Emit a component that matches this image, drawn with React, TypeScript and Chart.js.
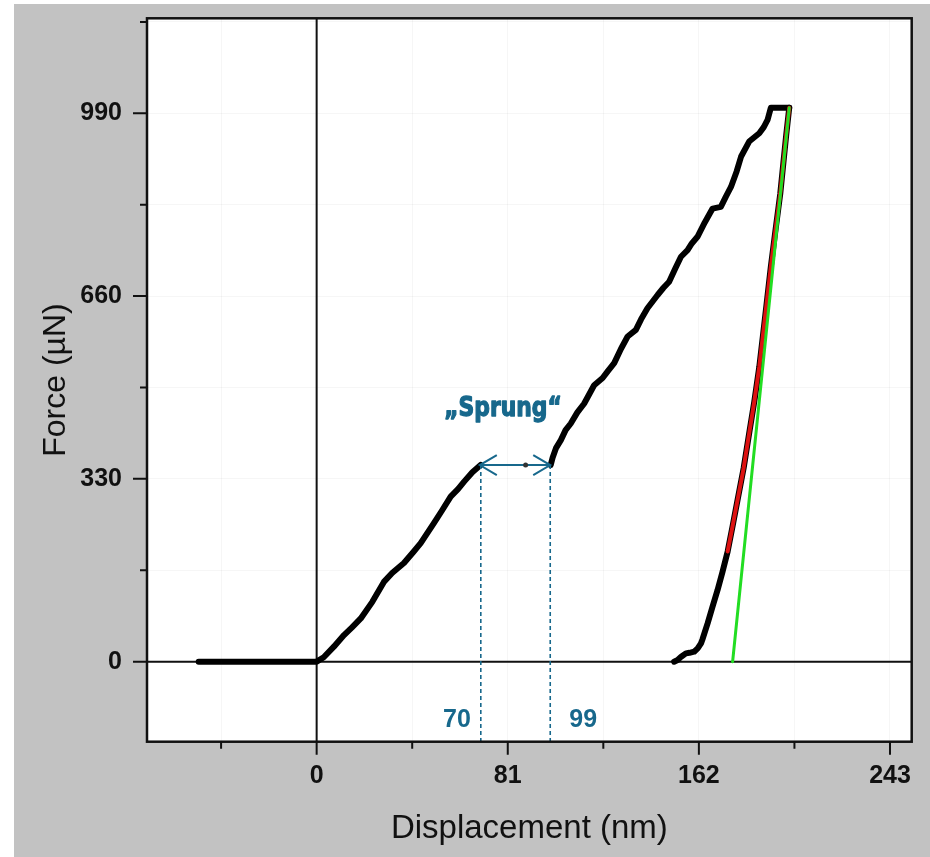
import React, { useEffect, useRef } from 'react';
import { Chart, registerables } from 'chart.js';

Chart.register(...registerables);

// ---- data (displacement in nm, force in µN) ----
const loadDisp = [-50, -30, -10, 0, 3, 7.3, 11.6, 15, 18.7, 23.6, 28.5, 32, 37, 41, 44.1, 49.7, 53, 56.8, 60, 62.5, 66, 69.5];
const loadForce = [0, 0, 0, 0, 8, 27, 48, 62, 78, 108, 144, 160, 178, 198, 214, 250, 272, 298, 312, 325, 342, 355];

const reloadDisp = [99.2, 100, 101.5, 103.5, 105.5, 107.7, 110.5, 113.4, 117.6, 121.2, 123.5, 126.1, 129, 131.8, 135.3, 137.5, 140.2, 144.5, 147, 149.4, 152, 154.4, 157.2, 159, 161.4, 164.5, 167.8, 171.3, 173.5, 175.6, 178, 179.9, 183.3, 187.6, 189.5, 191.1, 192.5, 200.3];
const reloadForce = [355, 368, 386, 400, 418, 430, 450, 466, 499, 512, 525, 539, 565, 587, 599, 618, 638, 662, 675, 686, 710, 731, 743, 755, 767, 793, 818, 821, 840, 857, 885, 912, 939, 954, 965, 978, 1000, 1000];

const unloadDisp = [200.3, 199, 197.8, 196.5, 194.5, 192.5, 190, 187.6, 185.5, 183.3, 181, 178.4, 176.3, 174.2, 172, 169.9, 167.7, 165.7, 163.5, 162.9, 161.5, 160, 158, 156.5, 154.5, 153, 151.5];
const unloadForce = [1000, 950, 900, 845, 780, 713, 620, 532, 470, 412, 350, 292, 245, 199, 162, 129, 98, 69, 40, 33, 24, 18, 16, 15, 9, 3, 0];

const fitDisp = [174.2, 176.3, 178.4, 181, 183.3, 185.5, 187.6, 190, 192.5, 194.5, 196.5, 197.8, 199, 200.3];
const fitForce = [199, 245, 292, 350, 412, 470, 532, 620, 713, 780, 845, 900, 950, 1000];

const tangentDisp = [176.3, 200.3];
const tangentForce = [0, 1000];

const xMajorTicks = [0, 81, 162, 243];
const xMinorTicks = [-40.5, 40.5, 121.5, 202.5];
const yMajorTicks = [0, 330, 660, 990];
const yMinorTicks = [165, 495, 825, 1155];

const sprungStart = 70;
const sprungEnd = 99;
const sprungForce = 355;
const sprungLabel = '„Sprung“';
const gapLabelForce = -106;

const BLUE = '#17688c';
const TICK_FONT = "'Liberation Sans', Arial, sans-serif";

const pts = (xs: number[], ys: number[]) => xs.map((x, i) => ({ x, y: ys[i] }));

const decorPlugin = {
  id: 'decor',
  beforeDraw(chart: any) {
    const { ctx, chartArea: a } = chart;
    ctx.save();
    ctx.fillStyle = '#ffffff';
    ctx.fillRect(a.left, a.top, a.right - a.left, a.bottom - a.top);
    ctx.restore();
  },
  beforeDatasetsDraw(chart: any) {
    const { ctx, chartArea: a, scales } = chart;
    const x0 = scales.x.getPixelForValue(0);
    const y0 = scales.y.getPixelForValue(0);
    ctx.save();
    ctx.strokeStyle = '#111';
    ctx.lineWidth = 2;
    ctx.beginPath();
    ctx.moveTo(x0, a.top);
    ctx.lineTo(x0, a.bottom);
    ctx.moveTo(a.left, y0);
    ctx.lineTo(a.right, y0);
    ctx.stroke();
    ctx.restore();
  },
  afterDatasetsDraw(chart: any) {
    const { ctx, chartArea: a, scales } = chart;
    const xs = scales.x;
    const ys = scales.y;
    const xa = xs.getPixelForValue(sprungStart);
    const xb = xs.getPixelForValue(sprungEnd);
    const yj = ys.getPixelForValue(sprungForce);
    ctx.save();
    // dashed guide lines
    ctx.strokeStyle = BLUE;
    ctx.lineWidth = 1.6;
    ctx.setLineDash([4, 3]);
    ctx.beginPath();
    ctx.moveTo(xa - 1, yj);
    ctx.lineTo(xa - 1, a.bottom);
    ctx.moveTo(xb, yj);
    ctx.lineTo(xb, a.bottom);
    ctx.stroke();
    ctx.setLineDash([]);
    // double arrow
    ctx.lineWidth = 2;
    ctx.beginPath();
    ctx.moveTo(xa - 2, yj);
    ctx.lineTo(xb, yj);
    ctx.moveTo(xa + 15, yj - 10);
    ctx.lineTo(xa - 2, yj);
    ctx.lineTo(xa + 15, yj + 10);
    ctx.moveTo(xb - 17, yj - 10);
    ctx.lineTo(xb, yj);
    ctx.lineTo(xb - 17, yj + 10);
    ctx.stroke();
    ctx.fillStyle = '#333';
    ctx.beginPath();
    ctx.arc(xa + (xb - xa) * 0.64, yj, 2.5, 0, Math.PI * 2);
    ctx.fill();
    // label (condensed bold look via horizontal scaling)
    ctx.fillStyle = BLUE;
    ctx.strokeStyle = BLUE;
    ctx.lineWidth = 1.3;
    ctx.lineJoin = 'round';
    ctx.font = "bold 26px 'DejaVu Sans', sans-serif";
    ctx.textAlign = 'center';
    ctx.textBaseline = 'middle';
    ctx.save();
    ctx.translate((xa + xb) / 2 - 13, yj - 56);
    ctx.scale(0.84, 1);
    ctx.fillText(sprungLabel, 0, 0);
    ctx.strokeText(sprungLabel, 0, 0);
    ctx.restore();
    ctx.font = `bold 25px ${TICK_FONT}`;
    const yl = ys.getPixelForValue(gapLabelForce);
    ctx.textAlign = 'right';
    ctx.fillText(String(sprungStart), xa - 11, yl);
    ctx.textAlign = 'left';
    ctx.fillText(String(sprungEnd), xb + 19, yl);
    ctx.restore();

    // frame and tick marks
    ctx.save();
    ctx.strokeStyle = '#111';
    ctx.lineWidth = 2.5;
    ctx.strokeRect(a.left, a.top, a.right - a.left, a.bottom - a.top);
    ctx.lineWidth = 2;
    ctx.beginPath();
    xMajorTicks.forEach((v) => {
      const p = xs.getPixelForValue(v);
      ctx.moveTo(p, a.bottom);
      ctx.lineTo(p, a.bottom + 13);
    });
    xMinorTicks.forEach((v) => {
      const p = xs.getPixelForValue(v);
      ctx.moveTo(p, a.bottom);
      ctx.lineTo(p, a.bottom + 7);
    });
    yMajorTicks.forEach((v) => {
      const p = ys.getPixelForValue(v);
      ctx.moveTo(a.left, p);
      ctx.lineTo(a.left - 14, p);
    });
    yMinorTicks.forEach((v) => {
      const p = ys.getPixelForValue(v);
      ctx.moveTo(a.left, p);
      ctx.lineTo(a.left - 7, p);
    });
    ctx.stroke();
    ctx.restore();
  },
};

export default function App() {
  const ref = useRef<HTMLCanvasElement>(null);

  useEffect(() => {
    if (!ref.current) return;
    const line = (data: any, color: string, width: number) => ({
      data,
      borderColor: color,
      backgroundColor: color,
      borderWidth: width,
      showLine: true,
      pointRadius: 0,
      tension: 0,
      borderJoinStyle: 'round',
      borderCapStyle: 'round',
      fill: false,
    });
    const chart = new Chart(ref.current, {
      type: 'scatter',
      data: {
        datasets: [
          line(pts(tangentDisp, tangentForce), '#22dd22', 3),
          line(pts(fitDisp, fitForce), '#dd1111', 4),
          line(pts(unloadDisp, unloadForce), '#000000', 6),
          line(pts(reloadDisp, reloadForce), '#000000', 6),
          line(pts(loadDisp, loadForce), '#000000', 6),
        ] as any,
      },
      options: {
        responsive: false,
        animation: false,
        devicePixelRatio: 1,
        layout: { padding: { top: 14.3, right: 18.3, left: 0, bottom: 0 } },
        plugins: { legend: { display: false }, tooltip: { enabled: false } },
        scales: {
          x: {
            type: 'linear',
            min: -71.9,
            max: 252.2,
            afterFit: (s: any) => {
              s.height = 115.3;
              s.paddingLeft = 0;
              s.paddingRight = 0;
            },
            afterBuildTicks: (s: any) => {
              s.ticks = [...xMinorTicks, ...xMajorTicks].sort((p, q) => p - q).map((v) => ({ value: v }));
            },
            grid: { color: 'rgba(0,0,0,0.035)', drawTicks: false, lineWidth: 1 },
            border: { display: false },
            ticks: {
              autoSkip: false,
              maxRotation: 0,
              padding: 19,
              color: '#111',
              font: { family: TICK_FONT, size: 25, weight: 'bold' },
              callback: (v: any) => (xMajorTicks.includes(Number(v)) ? String(v) : ''),
            },
            title: {
              display: true,
              text: 'Displacement (nm)',
              color: '#111',
              font: { family: TICK_FONT, size: 33, weight: 'normal' },
              padding: { top: 0, bottom: 8 },
            },
          },
          y: {
            type: 'linear',
            min: -144.5,
            max: 1161.5,
            afterFit: (s: any) => {
              s.width = 133;
              s.paddingTop = 0;
              s.paddingBottom = 0;
            },
            afterBuildTicks: (s: any) => {
              s.ticks = [...yMinorTicks, ...yMajorTicks].sort((p, q) => p - q).map((v) => ({ value: v }));
            },
            grid: { color: 'rgba(0,0,0,0.035)', drawTicks: false, lineWidth: 1 },
            border: { display: false },
            ticks: {
              autoSkip: false,
              padding: 25,
              color: '#111',
              font: { family: TICK_FONT, size: 25, weight: 'bold' },
              callback: (v: any) => (yMajorTicks.includes(Number(v)) ? String(v) : ''),
            },
            title: {
              display: true,
              text: 'Force (µN)',
              color: '#111',
              font: { family: TICK_FONT, size: 32, weight: 'normal' },
              padding: { top: 23, bottom: 0 },
            },
          },
        },
      } as any,
      plugins: [decorPlugin],
    });
    return () => chart.destroy();
  }, []);

  return (
    <div style={{ position: 'absolute', left: 0, top: 0, width: 930, height: 857, background: '#ffffff' }}>
      <canvas
        ref={ref}
        width={916}
        height={853}
        style={{ position: 'absolute', left: 14, top: 4, width: 916, height: 853, background: '#c2c2c2' }}
      />
    </div>
  );
}
